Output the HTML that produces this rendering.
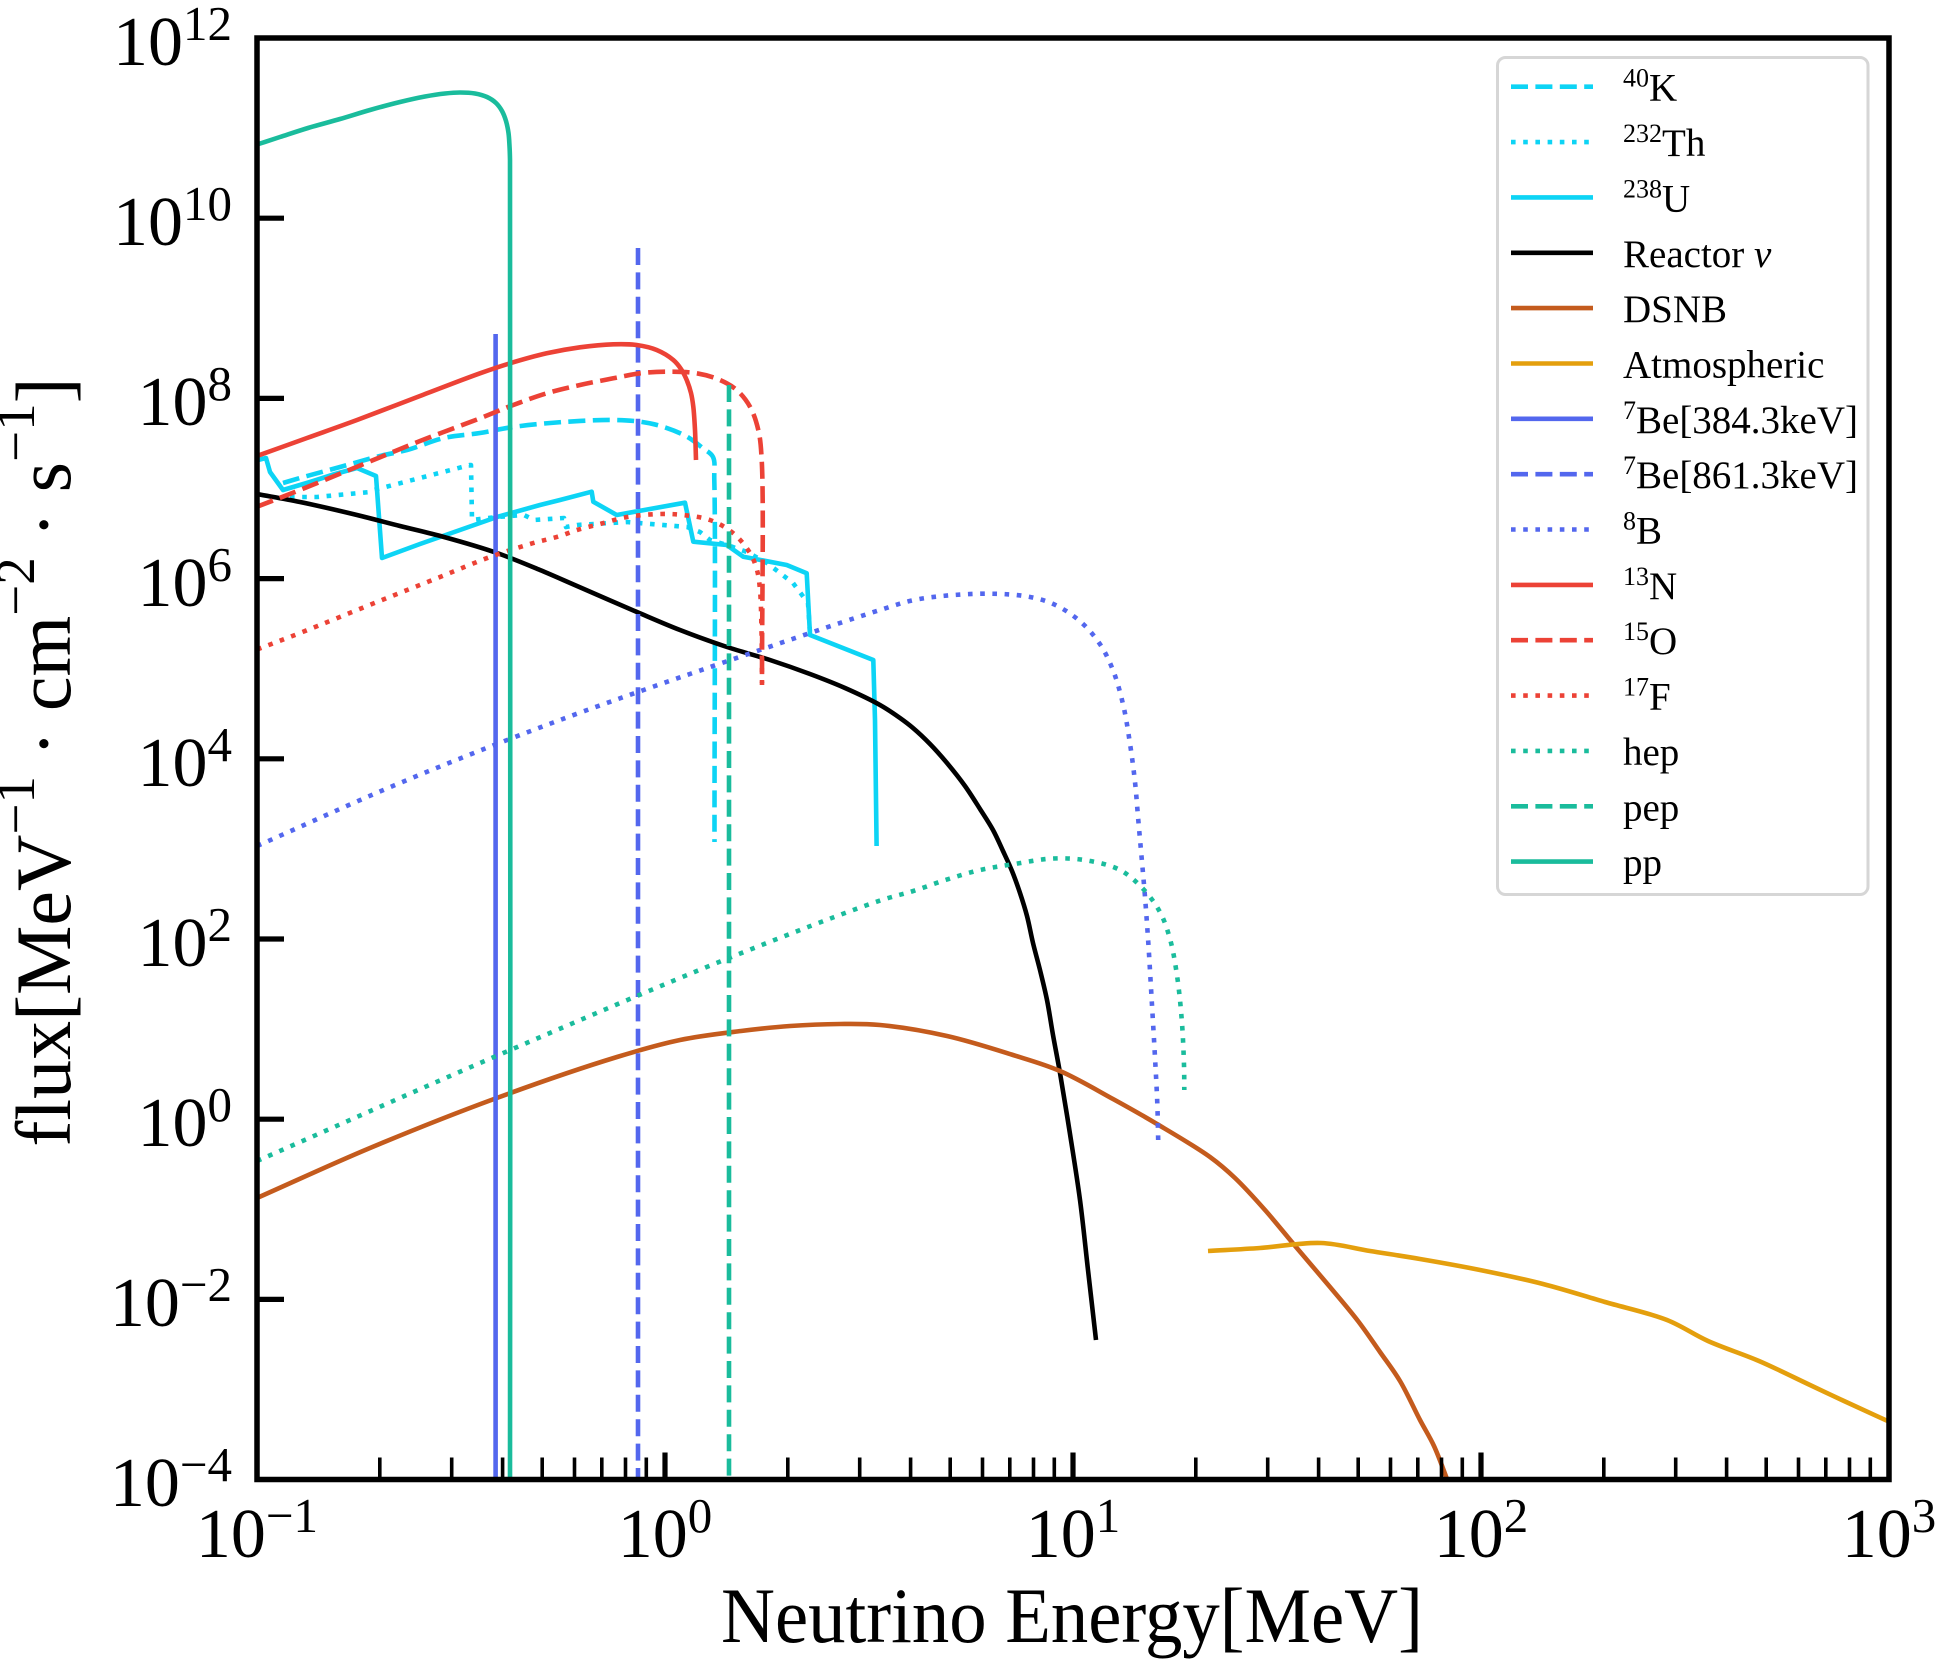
<!DOCTYPE html>
<html><head><meta charset="utf-8"><style>
html,body{margin:0;padding:0;background:#fff;}
svg{display:block;}
text{font-family:"Liberation Serif","DejaVu Serif",serif;fill:#000;}
</style></head><body>
<svg id="chart" width="1936" height="1664" viewBox="0 0 1936 1664" xmlns="http://www.w3.org/2000/svg">
<defs><clipPath id="pc"><rect x="257" y="38" width="1632" height="1441.5"/></clipPath></defs>
<rect width="1936" height="1664" fill="#fff"/>
<g clip-path="url(#pc)" fill="none" stroke-linejoin="round" stroke-width="4.6">
<!-- 40K -->
<polyline class="s" stroke="#0dd4f5" stroke-dasharray="17 7.4" points="283,483 300,478 340,467 380,456 407,450 444,438 480,433 513,427 563,422 613,420 640,421.7 663,426.7 687,436.7 703,448.3 713,457 714.3,480 714.5,842"/>
<!-- 232Th -->
<polyline stroke="#0dd4f5" stroke-dasharray="4.6 7.6" points="290,497 317,497 370,492 374,490 420,478 470,465 471,465 472,520 497,517 524,515 534,520 564,518 566,527 577,525 627,522 687,527 700,532 710,540 730,546 747,552 767,563 793,583 808,603 810,633"/>
<!-- 238U -->
<polyline stroke="#0dd4f5" points="258,460 266,458 270,472 283,490 310,482 335,474 357,468 376,476 382,558 420,544 460,530 497,517 540,505 560,500 591.7,491.7 593.3,501.7 616.7,515 685,502.7 693.3,541.7 726.7,545 743.3,556.7 786.7,565 806.7,573.3 810,635 873.3,660 875,720 876.6,846"/>
<!-- Reactor -->
<polyline class="s" stroke="#000" points="257,494 300,502 357,515 400,526 444,537 497,553 540,570 577,586 637,612 680,630 727,647 770,660 810,674 845,688 880,705 900,718 913,728 930,744 947,763 965,786 980,809 993,830 1003,851 1012,871 1020,893 1027,916 1033,943 1040,970 1047,1000 1053,1035 1060,1073 1070,1134 1080,1200 1088,1270 1096,1340"/>
<!-- DSNB -->
<polyline class="s" stroke="#c45b1d" points="257,1198 370,1148 494,1099 617,1057 680,1040 741,1031 790,1026 840,1024 880,1025 947,1036 1013,1055 1060,1071 1113,1099 1157,1124 1210,1157 1235,1178 1265,1210 1296,1247 1330,1287 1358,1321 1380,1352 1400,1381 1420,1420 1434,1446 1447,1479 1455,1500"/>
<!-- Atmospheric -->
<polyline class="s" stroke="#e49f0d" points="1208,1251 1260,1248 1321,1243 1370,1251 1420,1259 1480,1270 1543,1284 1605,1302 1667,1320 1708,1341 1759,1361 1810,1385 1844,1401 1892,1423"/>
<!-- 7Be 384 -->
<line x1="495.6" y1="334" x2="495.6" y2="1485" stroke="#5367ee"/>
<!-- 7Be 861 -->
<line x1="638" y1="248" x2="638" y2="1485" stroke="#5367ee" stroke-dasharray="17 7.4"/>
<!-- 8B -->
<polyline class="s" stroke="#5367ee" stroke-dasharray="4.6 7.6" points="257,846 400,783 560,720 760,650 880,610 913.3,600.2 946.7,595.6 990,593.7 1026.7,596.4 1053.3,604 1080,621.2 1100,644.2 1113.3,671 1123.3,705.4 1130,743.7 1135,782 1138.3,820.2 1141.7,858.5 1145,896.8 1148.3,942.7 1151.7,1000 1155,1057.5 1157.3,1103.4 1158.3,1145.5"/>
<!-- 13N -->
<polyline class="s" stroke="#ec4236" points="257,456 307,438 357,420 420,396 480,373.3 510,363.3 546.7,353.3 580,347.3 613.3,344.3 636.7,345 656.7,350 673.3,360 681,369 686.7,380 691,393 693.3,406.7 695,430 696,460"/>
<!-- 15O -->
<polyline class="s" stroke="#ec4236" stroke-dasharray="17 7.4" points="257,506.7 300,490 363.7,464 420,441 480,418.3 513.3,405 546.7,393.3 580,385 613.3,378.3 640,373.3 666.7,371.7 696.7,373.3 720,380 736.7,390 750,406.7 758.3,430 761.7,460 762,685"/>
<!-- 17F -->
<polyline class="s" stroke="#ec4236" stroke-dasharray="4.6 7.6" points="257,649.5 300,633 377,602 440,577 490,557 530,544 560,536 577,530 600,524 627,517 660,514 683,515 710,520 733,533 750,553 757,570 760,590 761.5,630 762,683"/>
<!-- hep -->
<polyline class="s" stroke="#1abc9c" stroke-dasharray="4.6 7.6" points="257,1161 494,1057 729,958 880,900.6 913.3,891 946.7,879.6 980,870 1013.3,864.2 1053.3,858.5 1086.7,860.4 1120,870 1143.3,889.1 1160,912.1 1170,938.9 1176.7,973.3 1181.7,1019.2 1184,1065.2 1184.3,1090"/>
<!-- pep -->
<line x1="729" y1="385" x2="729" y2="1485" stroke="#1abc9c" stroke-dasharray="17 7.4"/>
<!-- pp -->
<polyline class="s" stroke="#1abc9c" points="257,144.5 280,137 308,128 340,119 370,110 400,102 425,96.5 445,93.5 460,92.5 475,93.5 487,97 496,103 502,111 506,121 508.5,133 509.5,146 510,160 510,1485"/>
</g>

<!-- ticks -->
<g stroke="#000" stroke-width="5.2">
<line x1="257" y1="218.2" x2="284" y2="218.2"/>
<line x1="257" y1="398.4" x2="284" y2="398.4"/>
<line x1="257" y1="578.6" x2="284" y2="578.6"/>
<line x1="257" y1="758.8" x2="284" y2="758.8"/>
<line x1="257" y1="939" x2="284" y2="939"/>
<line x1="257" y1="1119.2" x2="284" y2="1119.2"/>
<line x1="257" y1="1299.4" x2="284" y2="1299.4"/>
<line x1="665" y1="1479.5" x2="665" y2="1452.5"/>
<line x1="1073" y1="1479.5" x2="1073" y2="1452.5"/>
<line x1="1481" y1="1479.5" x2="1481" y2="1452.5"/>
</g>
<g stroke="#000" stroke-width="3.6">
<line x1="379.8" y1="1479.5" x2="379.8" y2="1457.5"/><line x1="451.7" y1="1479.5" x2="451.7" y2="1457.5"/><line x1="502.6" y1="1479.5" x2="502.6" y2="1457.5"/><line x1="542.2" y1="1479.5" x2="542.2" y2="1457.5"/><line x1="574.5" y1="1479.5" x2="574.5" y2="1457.5"/><line x1="601.8" y1="1479.5" x2="601.8" y2="1457.5"/><line x1="625.5" y1="1479.5" x2="625.5" y2="1457.5"/><line x1="646.3" y1="1479.5" x2="646.3" y2="1457.5"/>
<line x1="787.8" y1="1479.5" x2="787.8" y2="1457.5"/><line x1="859.7" y1="1479.5" x2="859.7" y2="1457.5"/><line x1="910.6" y1="1479.5" x2="910.6" y2="1457.5"/><line x1="950.2" y1="1479.5" x2="950.2" y2="1457.5"/><line x1="982.5" y1="1479.5" x2="982.5" y2="1457.5"/><line x1="1009.8" y1="1479.5" x2="1009.8" y2="1457.5"/><line x1="1033.5" y1="1479.5" x2="1033.5" y2="1457.5"/><line x1="1054.3" y1="1479.5" x2="1054.3" y2="1457.5"/>
<line x1="1195.8" y1="1479.5" x2="1195.8" y2="1457.5"/><line x1="1267.7" y1="1479.5" x2="1267.7" y2="1457.5"/><line x1="1318.6" y1="1479.5" x2="1318.6" y2="1457.5"/><line x1="1358.2" y1="1479.5" x2="1358.2" y2="1457.5"/><line x1="1390.5" y1="1479.5" x2="1390.5" y2="1457.5"/><line x1="1417.8" y1="1479.5" x2="1417.8" y2="1457.5"/><line x1="1441.5" y1="1479.5" x2="1441.5" y2="1457.5"/><line x1="1462.3" y1="1479.5" x2="1462.3" y2="1457.5"/>
<line x1="1603.8" y1="1479.5" x2="1603.8" y2="1457.5"/><line x1="1675.7" y1="1479.5" x2="1675.7" y2="1457.5"/><line x1="1726.6" y1="1479.5" x2="1726.6" y2="1457.5"/><line x1="1766.2" y1="1479.5" x2="1766.2" y2="1457.5"/><line x1="1798.5" y1="1479.5" x2="1798.5" y2="1457.5"/><line x1="1825.8" y1="1479.5" x2="1825.8" y2="1457.5"/><line x1="1849.5" y1="1479.5" x2="1849.5" y2="1457.5"/><line x1="1870.3" y1="1479.5" x2="1870.3" y2="1457.5"/>
</g>

<!-- spines -->
<rect x="257" y="38" width="1632" height="1441.5" fill="none" stroke="#000" stroke-width="5.5"/>

<!-- y tick labels -->
<g font-size="70" text-anchor="end">
<text x="232" y="65">10<tspan dy="-25" font-size="49">12</tspan></text>
<text x="232" y="245">10<tspan dy="-25" font-size="49">10</tspan></text>
<text x="232" y="425">10<tspan dy="-25" font-size="49">8</tspan></text>
<text x="232" y="606">10<tspan dy="-25" font-size="49">6</tspan></text>
<text x="232" y="786">10<tspan dy="-25" font-size="49">4</tspan></text>
<text x="232" y="966">10<tspan dy="-25" font-size="49">2</tspan></text>
<text x="232" y="1146">10<tspan dy="-25" font-size="49">0</tspan></text>
<text x="232" y="1326">10<tspan dy="-25" font-size="49">−2</tspan></text>
<text x="232" y="1506">10<tspan dy="-25" font-size="49">−4</tspan></text>
</g>
<!-- x tick labels -->
<g font-size="70" text-anchor="middle">
<text x="257" y="1557">10<tspan dy="-25" font-size="49">−1</tspan></text>
<text x="665" y="1557">10<tspan dy="-25" font-size="49">0</tspan></text>
<text x="1073" y="1557">10<tspan dy="-25" font-size="49">1</tspan></text>
<text x="1481" y="1557">10<tspan dy="-25" font-size="49">2</tspan></text>
<text x="1889" y="1557">10<tspan dy="-25" font-size="49">3</tspan></text>
</g>

<!-- axis labels -->
<text x="721" y="1642" font-size="78" textLength="702" lengthAdjust="spacingAndGlyphs">Neutrino Energy[MeV]</text>
<text transform="translate(70,762) rotate(-90)" font-size="78" text-anchor="middle">flux[MeV<tspan dy="-36" font-size="55">−1</tspan><tspan dy="36"> · cm</tspan><tspan dy="-36" font-size="55">−2</tspan><tspan dy="36"> · s</tspan><tspan dy="-36" font-size="55">−1</tspan><tspan dy="36">]</tspan></text>

<!-- legend -->
<rect x="1497.5" y="57.5" width="370.5" height="837" rx="8" ry="8" fill="#fff" fill-opacity="0.85" stroke="#d6d6d6" stroke-width="3"/>
<g stroke-width="4.6" fill="none">
<line x1="1511" y1="86.7" x2="1593" y2="86.7" stroke="#0dd4f5" stroke-dasharray="17 7.4"/>
<line x1="1511" y1="142.1" x2="1593" y2="142.1" stroke="#0dd4f5" stroke-dasharray="4.6 7.6"/>
<line x1="1511" y1="197.4" x2="1593" y2="197.4" stroke="#0dd4f5"/>
<line x1="1511" y1="252.8" x2="1593" y2="252.8" stroke="#000"/>
<line x1="1511" y1="308.1" x2="1593" y2="308.1" stroke="#c45b1d"/>
<line x1="1511" y1="363.5" x2="1593" y2="363.5" stroke="#e49f0d"/>
<line x1="1511" y1="418.8" x2="1593" y2="418.8" stroke="#5367ee"/>
<line x1="1511" y1="474.2" x2="1593" y2="474.2" stroke="#5367ee" stroke-dasharray="17 7.4"/>
<line x1="1511" y1="529.5" x2="1593" y2="529.5" stroke="#5367ee" stroke-dasharray="4.6 7.6"/>
<line x1="1511" y1="584.9" x2="1593" y2="584.9" stroke="#ec4236"/>
<line x1="1511" y1="640.2" x2="1593" y2="640.2" stroke="#ec4236" stroke-dasharray="17 7.4"/>
<line x1="1511" y1="695.6" x2="1593" y2="695.6" stroke="#ec4236" stroke-dasharray="4.6 7.6"/>
<line x1="1511" y1="750.9" x2="1593" y2="750.9" stroke="#1abc9c" stroke-dasharray="4.6 7.6"/>
<line x1="1511" y1="806.3" x2="1593" y2="806.3" stroke="#1abc9c" stroke-dasharray="17 7.4"/>
<line x1="1511" y1="861.6" x2="1593" y2="861.6" stroke="#1abc9c"/>
</g>
<g font-size="39">
<text x="1623" y="100.7"><tspan dy="-14" font-size="26">40</tspan><tspan dy="14">K</tspan></text>
<text x="1623" y="156.1"><tspan dy="-14" font-size="26">232</tspan><tspan dy="14">Th</tspan></text>
<text x="1623" y="211.4"><tspan dy="-14" font-size="26">238</tspan><tspan dy="14">U</tspan></text>
<text x="1623" y="266.8">Reactor <tspan font-style="italic">ν</tspan></text>
<text x="1623" y="322.1">DSNB</text>
<text x="1623" y="377.5">Atmospheric</text>
<text x="1623" y="432.8"><tspan dy="-14" font-size="26">7</tspan><tspan dy="14">Be[384.3keV]</tspan></text>
<text x="1623" y="488.2"><tspan dy="-14" font-size="26">7</tspan><tspan dy="14">Be[861.3keV]</tspan></text>
<text x="1623" y="543.5"><tspan dy="-14" font-size="26">8</tspan><tspan dy="14">B</tspan></text>
<text x="1623" y="598.9"><tspan dy="-14" font-size="26">13</tspan><tspan dy="14">N</tspan></text>
<text x="1623" y="654.2"><tspan dy="-14" font-size="26">15</tspan><tspan dy="14">O</tspan></text>
<text x="1623" y="709.6"><tspan dy="-14" font-size="26">17</tspan><tspan dy="14">F</tspan></text>
<text x="1623" y="764.9">hep</text>
<text x="1623" y="820.3">pep</text>
<text x="1623" y="875.6">pp</text>
</g>
</svg>
<script>
(function(){
  function dist(a,b){var dx=a[0]-b[0],dy=a[1]-b[1];return Math.sqrt(dx*dx+dy*dy);}
  function f(p){return p[0].toFixed(2)+','+p[1].toFixed(2);}
  var pls=document.querySelectorAll('polyline.s');
  for(var k=0;k<pls.length;k++){
    var pl=pls[k];
    var raw=pl.getAttribute('points').trim().split(/\s+/);
    var pts=[];
    for(var j=0;j<raw.length;j++){var a=raw[j].split(',');pts.push([+a[0],+a[1]]);}
    var d='M'+f(pts[0]);
    for(var i=0;i<pts.length-1;i++){
      var p0=pts[i>0?i-1:0],p1=pts[i],p2=pts[i+1],p3=pts[i+2<pts.length?i+2:i+1];
      var d1=Math.sqrt(dist(p0,p1)),d2=Math.sqrt(dist(p1,p2)),d3=Math.sqrt(dist(p2,p3));
      var B=d2*d2,b1,b2;
      if(d1<1e-6){b1=[p1[0]+(p2[0]-p1[0])/3,p1[1]+(p2[1]-p1[1])/3];}
      else{var A=d1*d1,C=2*A+3*d1*d2+B,D=3*d1*(d1+d2);
        b1=[(A*p2[0]-B*p0[0]+C*p1[0])/D,(A*p2[1]-B*p0[1]+C*p1[1])/D];}
      if(d3<1e-6){b2=[p2[0]-(p2[0]-p1[0])/3,p2[1]-(p2[1]-p1[1])/3];}
      else{var A3=d3*d3,C3=2*A3+3*d3*d2+B,D3=3*d3*(d3+d2);
        b2=[(A3*p1[0]-B*p3[0]+C3*p2[0])/D3,(A3*p1[1]-B*p3[1]+C3*p2[1])/D3];}
      d+=' C'+f(b1)+' '+f(b2)+' '+f(p2);
    }
    var path=document.createElementNS('http://www.w3.org/2000/svg','path');
    path.setAttribute('d',d);
    path.setAttribute('stroke',pl.getAttribute('stroke'));
    if(pl.getAttribute('stroke-dasharray'))path.setAttribute('stroke-dasharray',pl.getAttribute('stroke-dasharray'));
    pl.parentNode.insertBefore(path,pl);
    pl.parentNode.removeChild(pl);
  }
})();
</script>
</body></html>
